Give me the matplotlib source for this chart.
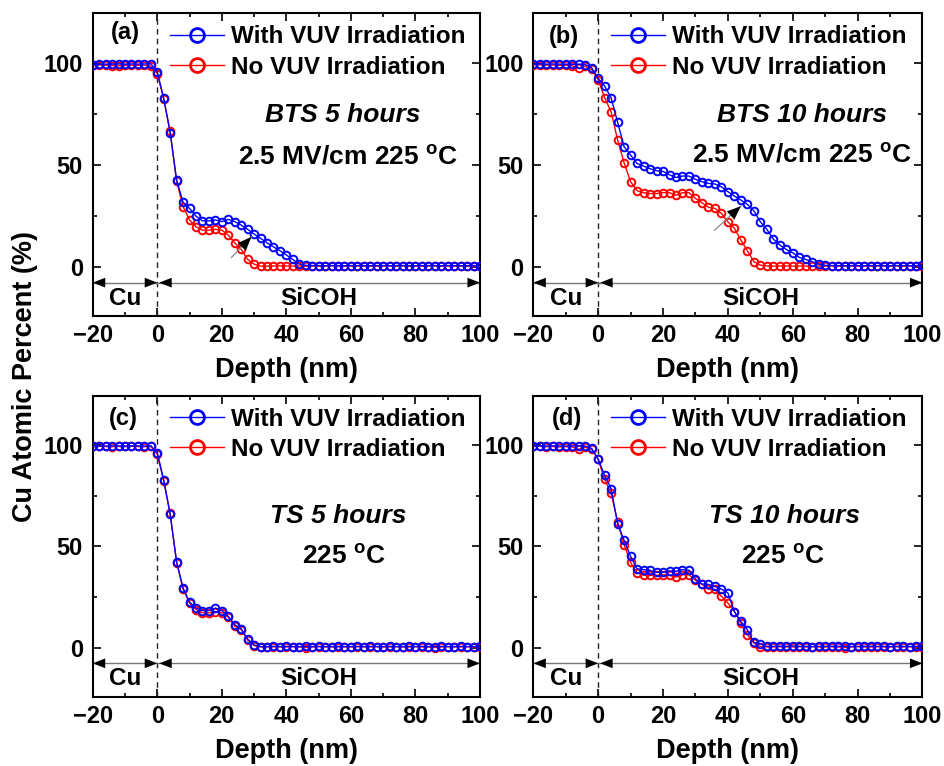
import matplotlib
matplotlib.use("Agg")
import matplotlib.pyplot as plt
from matplotlib.ticker import MultipleLocator

plt.rcParams['font.family'] = ['Liberation Sans', 'DejaVu Sans']
plt.rcParams['mathtext.fontset'] = 'custom'
plt.rcParams['mathtext.rm'] = 'Liberation Sans:bold'
plt.rcParams['mathtext.bf'] = 'Liberation Sans:bold'

# ---------------- data ----------------
depth = [-20, -18, -16, -14, -12, -10, -8, -6, -4, -2,
         0, 2, 4, 6, 8, 10, 12, 14, 16, 18, 20, 22, 24, 26, 28, 30, 32, 34, 36, 38,
         40, 42, 44, 46, 48, 50, 52, 54, 56, 58, 60, 62, 64, 66, 68, 70, 72, 74, 76, 78,
         80, 82, 84, 86, 88, 90, 92, 94, 96, 98, 100]

a_vuv = [99.3, 99.5, 99.6, 99.6, 99.7, 99.6, 99.7, 99.6, 99.7, 99.8,
         95.9, 82.8, 65.9, 42.6, 31.7, 28.7, 24.9, 22.6, 22.6, 23.0, 22.2, 23.3, 22.2, 20.5, 18.4, 16.1, 14.0, 11.8, 9.8, 7.9,
         5.8, 3.6, 1.3, 0.7, 0.6, 0.6, 0.5, 0.6, 0.6, 0.5, 0.6, 0.6, 0.6, 0.5, 0.6, 0.6, 0.5, 0.6, 0.6, 0.6,
         0.5, 0.6, 0.6, 0.6, 0.5, 0.6, 0.6, 0.5, 0.6, 0.6, 0.6]
a_novuv = [99.0, 99.2, 99.1, 98.9, 98.8, 99.0, 99.1, 99.0, 99.2, 98.6,
           95.0, 82.5, 66.5, 42.0, 29.6, 23.0, 19.7, 18.0, 18.0, 18.4, 18.0, 15.6, 11.8, 8.5, 3.6, 1.3, 0.3, 0.3, 0.4, 0.5,
           0.4, 0.3, 0.4, 0.3, 0.4, 0.3, 0.4, 0.5, 0.4, 0.3, 0.4, 0.4, 0.3, 0.4, 0.3, 0.4, 0.4, 0.3, 0.4, 0.3,
           0.4, 0.3, 0.4, 0.4, 0.3, 0.4, 0.3, 0.4, 0.3, 0.4, 0.3]

b_vuv = [99.6, 99.7, 99.6, 99.7, 99.6, 99.6, 99.5, 99.6, 99.4, 97.8,
         92.6, 88.8, 83.1, 71.0, 59.0, 54.9, 50.8, 49.5, 48.2, 47.2, 46.9, 45.2, 43.9, 44.6, 44.6, 43.0, 41.8, 41.0, 40.7, 39.3,
         36.9, 34.8, 32.8, 30.7, 27.5, 22.1, 18.4, 13.6, 10.7, 8.5, 6.9, 4.6, 3.6, 2.5, 1.3, 0.7, 0.6, 0.6, 0.5, 0.6,
         0.6, 0.5, 0.6, 0.6, 0.6, 0.5, 0.6, 0.6, 0.5, 0.6, 0.7]
b_novuv = [99.2, 99.3, 99.1, 99.2, 99.0, 99.1, 98.8, 97.5, 98.6, 97.0,
           92.0, 83.1, 76.2, 62.3, 51.1, 41.8, 37.4, 36.4, 36.0, 36.0, 36.5, 36.4, 35.2, 36.4, 36.4, 33.6, 31.5, 29.2, 28.7, 26.2,
           22.1, 18.9, 13.1, 7.9, 2.5, 0.8, 0.4, 0.3, 0.4, 0.4, 0.3, 0.4, 0.3, 0.4, 0.4, 0.3, 0.4, 0.3, 0.4, 0.4,
           0.3, 0.4, 0.3, 0.4, 0.4, 0.3, 0.4, 0.3, 0.4, 0.3, 0.4]

c_vuv = [99.7, 99.7, 99.6, 99.7, 99.7, 99.6, 99.7, 99.7, 99.6, 99.8,
         96.4, 82.8, 65.8, 42.3, 29.4, 22.5, 19.5, 18.3, 18.3, 19.5, 18.3, 15.4, 11.3, 9.3, 4.2, 1.3, 0.5, 0.5, 0.6, 0.5,
         0.6, 0.5, 0.5, 0.6, 0.5, 0.6, 0.5, 0.5, 0.6, 0.5, 0.5, 0.6, 0.5, 0.6, 0.5, 0.5, 0.6, 0.5, 0.5, 0.6,
         0.5, 0.6, 0.5, 0.5, 0.6, 0.5, 0.5, 0.6, 0.5, 0.5, 0.6]
c_novuv = [99.4, 99.5, 99.4, 99.3, 99.4, 99.4, 99.5, 99.4, 99.3, 99.4,
           95.5, 82.5, 66.3, 42.0, 29.0, 22.0, 18.8, 17.2, 17.2, 17.8, 17.2, 15.0, 10.5, 8.9, 3.6, 1.0, 0.3, 0.3, 0.4, 0.3,
           0.3, 0.4, 0.3, 0.0, 0.3, 0.4, 0.3, 0.3, 0.4, 0.3, 0.3, 0.4, 0.3, 0.3, 0.4, 0.3, 0.3, 0.4, 0.3, 0.3,
           0.4, 0.3, 0.3, 0.0, 0.3, 0.4, 0.3, 0.3, 0.4, 0.3, 0.3]

d_vuv = [99.7, 99.7, 99.6, 99.7, 99.7, 99.6, 99.7, 99.7, 99.6, 98.4,
         93.1, 85.1, 78.5, 61.3, 53.0, 45.1, 38.9, 38.5, 38.2, 37.2, 37.2, 37.9, 37.7, 38.5, 38.2, 33.9, 31.4, 31.2, 30.2, 28.9,
         27.0, 17.8, 12.9, 8.8, 2.5, 1.8, 0.6, 0.6, 0.7, 0.6, 0.8, 0.6, 0.6, 0.5, 0.6, 0.6, 0.7, 0.6, 0.6, 0.5,
         0.6, 0.6, 0.7, 0.6, 0.6, 0.5, 0.6, 0.6, 0.5, 0.6, 0.8]
d_novuv = [99.4, 99.5, 99.3, 99.4, 99.2, 99.3, 99.2, 98.0, 99.0, 98.0,
           93.0, 83.1, 76.2, 62.0, 50.9, 42.1, 36.9, 35.7, 35.7, 35.7, 36.0, 35.7, 34.9, 36.0, 36.0, 33.2, 31.2, 28.8, 28.8, 25.3,
           22.0, 17.8, 12.1, 6.3, 2.2, 0.5, 0.3, 0.3, 0.4, 0.3, 0.3, 0.4, 0.3, 0.4, 0.3, 0.3, 0.4, 0.3, 0.0, 0.3,
           0.4, 0.3, 0.3, 0.4, 0.3, 0.3, 0.4, 0.3, 0.4, 0.3, 0.3]

panel_labels = ["(a)", "(b)", "(c)", "(d)"]
line1_texts = ["BTS 5 hours", "BTS 10 hours", "TS 5 hours", "TS 10 hours"]
line2_texts = [r"2.5 MV/cm 225 $^{\mathrm{o}}$C", r"2.5 MV/cm 225 $^{\mathrm{o}}$C",
               r"225 $^{\mathrm{o}}$C", r"225 $^{\mathrm{o}}$C"]
series_names = ["With VUV Irradiation", "No VUV Irradiation"]
region_names = ["Cu", "SiCOH"]
xticks = [-20, 0, 20, 40, 60, 80, 100]
yticks = [0, 50, 100]

# ---------------- figure ----------------
fig = plt.figure(figsize=(9.45, 7.66), dpi=100)
W, H = 945.0, 766.0

boxes = [
    (92.7, 13.3, 480.0, 316.0),
    (533.3, 13.3, 922.5, 316.0),
    (92.7, 395.5, 480.0, 696.5),
    (533.3, 395.5, 922.5, 696.5),
]
datasets = [(a_vuv, a_novuv), (b_vuv, b_novuv), (c_vuv, c_novuv), (d_vuv, d_novuv)]
txt1_pos = [(57.5, 74.6), (63, 74.6), (56, 65), (57.3, 65)]
txt2_pos = [(59, 54), (63, 55), (58, 45), (57, 45)]
lab_pos = [(-10, 115), (-10.5, 113), (-10.5, 113), (-9.7, 113)]
small_arrows = [((23.0, 4.6), (29.2, 14.7)), ((35.9, 18.0), (44.0, 29.8)), None, None]

for i, (l, t, r, b) in enumerate(boxes):
    ax = fig.add_axes([l / W, 1 - b / H, (r - l) / W, (b - t) / H])
    vuv, novuv = datasets[i]
    hr, = ax.plot(depth, novuv, '-', color='#ff0000', lw=1.0, marker='o', ms=5.5,
                  mfc='none', mec='#ff0000', mew=1.4, zorder=3)
    hb, = ax.plot(depth, vuv, '-', color='#0000ff', lw=1.0, marker='o', ms=5.5,
                  mfc='none', mec='#0000ff', mew=1.4, zorder=4)
    ax.set_xlim(-20, 100)
    ax.set_ylim(-24.2, 124.6)
    ax.set_xticks(xticks)
    ax.set_yticks(yticks)
    ax.xaxis.set_minor_locator(MultipleLocator(10))
    ax.yaxis.set_minor_locator(MultipleLocator(25))
    ax.tick_params(which='both', direction='in', top=True, right=True, width=1.2,
                   labelsize=17)
    ax.tick_params(which='major', length=5.5)
    ax.tick_params(which='minor', length=3)
    ax.tick_params(axis='x', pad=6)
    ax.tick_params(axis='y', pad=7)
    for lab in ax.get_xticklabels() + ax.get_yticklabels():
        lab.set_fontweight('bold')
    for sp in ax.spines.values():
        sp.set_linewidth(1.5)
    ax.set_xlabel("Depth (nm)", fontsize=19.5, fontweight='bold', labelpad=7)

    # dashed interface line
    ax.axvline(0, color='#222222', lw=1.0, ls=(0, (4, 3)), zorder=2)

    # region arrows
    ya = -7.8
    ax.plot([-20, 100], [ya, ya], color='#777777', lw=1.0, zorder=2)
    for (x0, x1) in [(-17, -20), (-3, 0), (3, 0.6), (97, 100)]:
        ax.annotate('', xy=(x1, ya), xytext=(x0, ya),
                    arrowprops=dict(arrowstyle='-|>,head_length=0.9,head_width=0.35',
                                    color='k', lw=0.01, shrinkA=0, shrinkB=0,
                                    mutation_scale=10), zorder=5)
    ax.text(-10, -15.5, region_names[0], fontsize=17.5, fontweight='bold',
            ha='center', va='center')
    ax.text(50, -15.5, region_names[1], fontsize=17.5, fontweight='bold',
            ha='center', va='center')

    # annotations
    ax.text(lab_pos[i][0], lab_pos[i][1], panel_labels[i], fontsize=17,
            fontweight='bold', ha='center', va='center')
    ax.text(txt1_pos[i][0], txt1_pos[i][1], line1_texts[i], fontsize=19,
            fontweight='bold', fontstyle='italic', ha='center', va='center')
    ax.text(txt2_pos[i][0], txt2_pos[i][1], line2_texts[i], fontsize=19,
            fontweight='bold', ha='center', va='center')

    if small_arrows[i] is not None:
        tail, head = small_arrows[i]
        ax.plot([tail[0], head[0]], [tail[1], head[1]], color='#888888', lw=0.9, zorder=6)
        mid = (tail[0] + 0.55 * (head[0] - tail[0]), tail[1] + 0.55 * (head[1] - tail[1]))
        ax.annotate('', xy=head, xytext=mid,
                    arrowprops=dict(arrowstyle='-|>,head_length=1.0,head_width=0.4',
                                    color='k', lw=0.01, shrinkA=0, shrinkB=0,
                                    mutation_scale=10), zorder=7)

    leg = ax.legend([hb, hr], series_names, loc='upper left',
                    bbox_to_anchor=(0.2, 0.96), frameon=False, fontsize=17.5,
                    handlelength=2.2, handletextpad=0.3, labelspacing=0.3,
                    borderpad=0, borderaxespad=0)
    for txt in leg.get_texts():
        txt.set_fontweight('bold')
    for h in leg.legend_handles:
        h.set_markersize(10)
        h.set_markeredgewidth(2.0)

fig.text(25 / W, 1 - 376 / H, "Cu Atomic Percent (%)", rotation=90,
         fontsize=19.5, fontweight='bold', ha='center', va='center')

fig.savefig("out.png", dpi=100)
